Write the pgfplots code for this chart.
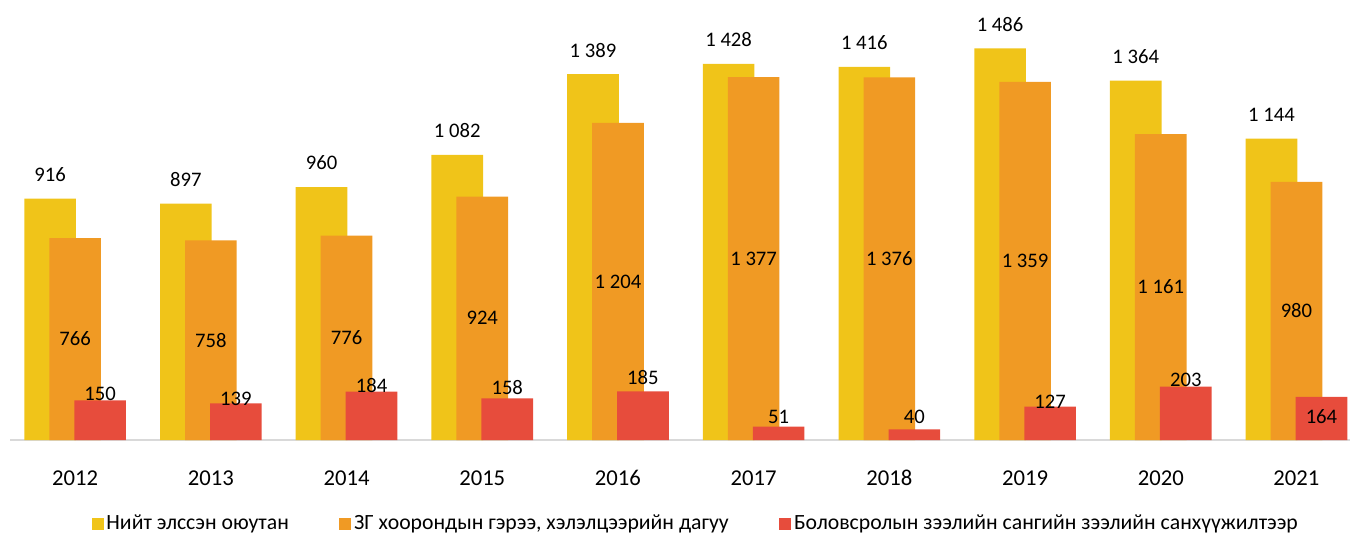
\documentclass[border=0pt]{standalone}
\usepackage{fontspec}
\setmainfont{Carlito}
\usepackage{pgfplots}
\usepackage{pgfplotstable}
\pgfplotsset{compat=1.18}
\definecolor{cy}{HTML}{F0C419}
\definecolor{co}{HTML}{F09A24}
\definecolor{cr}{HTML}{E74C3C}

\pgfplotstableread{
x y
0 916
1 897
2 960
3 1082
4 1389
5 1428
6 1416
7 1486
8 1364
9 1144
}\tyellow
\pgfplotstableread{
x y
0 766
1 758
2 776
3 924
4 1204
5 1377
6 1376
7 1359
8 1161
9 980
}\torange
\pgfplotstableread{
x y dy
0 150 5
1 139 3.4
2 184 4.5
3 158 8.25
4 185 10.5
5 51 7.5
6 40 9.75
7 127 3.75
8 203 5.25
9 164 -15
}\tred

\begin{document}
\begin{tikzpicture}
\useasboundingbox (-7.5pt,-71.25pt) rectangle (1006.5pt,330pt);
\begin{axis}[
  at={(0pt,0pt)}, anchor=south west,
  scale only axis, width=1005pt, height=330pt,
  xmin=-0.48, xmax=9.395, ymin=0, ymax=1670,
  axis y line=none, axis x line*=bottom,
  axis line style={-, draw=black!15, line width=1.2pt},
  xtick={0,...,9},
  xticklabels={2012,2013,2014,2015,2016,2017,2018,2019,2020,2021},
  xtick style={draw=none}, ytick=\empty,
  xticklabel style={font=\fontsize{17}{20}\selectfont, anchor=base, yshift=-29.5pt},
  ybar, bar width=38.7pt,
  clip=false,
  every node near coord/.append style={font=\fontsize{15.5}{18}\selectfont, text=black, anchor=center},
  /pgf/number format/fixed, /pgf/number format/precision=0,
  /pgf/number format/1000 sep={\ }, /pgf/number format/assume math mode=true,
  legend columns=3,
  legend style={at={(0.512,-0.19)}, anchor=center, draw=none, fill=none,
    font=\fontsize{16.3}{19}\selectfont,
    /tikz/every even column/.append style={column sep=36pt}},
  legend image code/.code={\fill[#1] (0pt,-4.5pt) rectangle (9pt,4.5pt);},
]
\addplot[fill=cy, draw=none, bar shift=-18.75pt,
  nodes near coords,
  every node near coord/.append style={yshift=18pt}] table[x=x,y=y] {\tyellow};
\addlegendentry{Нийт элссэн оюутан}
\addplot[fill=co, draw=none, bar shift=0pt,
  nodes near coords,
  visualization depends on={rawy \as \rawy},
  every node near coord/.append style={yshift={-0.098802pt*\rawy}}] table[x=x,y=y] {\torange};
\addlegendentry{ЗГ хоорондын гэрээ, хэлэлцээрийн дагуу}
\addplot[fill=cr, draw=none, bar shift=18.75pt,
  nodes near coords,
  visualization depends on={\thisrow{dy} \as \dy},
  every node near coord/.append style={yshift=\dy pt}] table[x=x,y=y] {\tred};
\addlegendentry{Боловсролын зээлийн сангийн зээлийн санхүүжилтээр}
\end{axis}
\end{tikzpicture}
\end{document}
